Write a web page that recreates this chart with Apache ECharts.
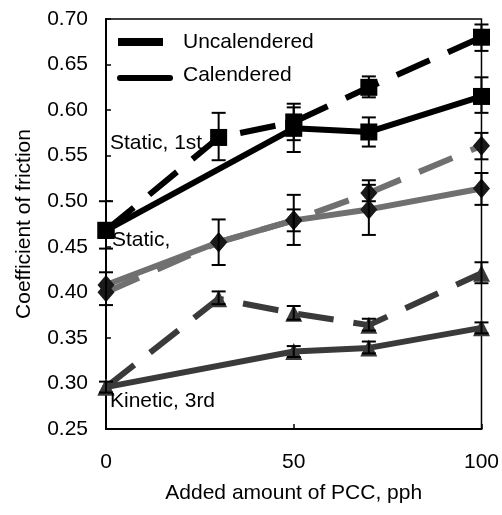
<!DOCTYPE html>
<html>
<head>
<meta charset="utf-8">
<script src="https://cdn.jsdelivr.net/npm/echarts@6/dist/echarts.min.js"></script>
<style>html,body{margin:0;padding:0;background:#fff;}#c{width:502px;height:515px;}</style>
</head>
<body>
<div id="c"></div>
<script>
const xValues = [0, 30, 50, 70, 100];
const xTicks = [0, 50, 100];
const yTicks = [0.25, 0.30, 0.35, 0.40, 0.45, 0.50, 0.55, 0.60, 0.65, 0.70];

// Static, 1st
const static1Uncal = [0.468, 0.570, 0.587, 0.625, 0.680];
const static1UncalLow = [0.448, 0.545, 0.567, 0.614, 0.665];
const static1UncalHigh = [0.500, 0.597, 0.607, 0.637, 0.694];
const static1Cal = [0.468, null, 0.580, 0.576, 0.615];
const static1CalLow = [null, null, 0.554, 0.560, 0.597];
const static1CalHigh = [null, null, 0.603, 0.592, 0.636];

// Static, 2nd
const static2Uncal = [0.400, 0.455, 0.479, 0.509, 0.561];
const static2UncalLow = [0.386, 0.430, 0.467, 0.500, 0.546];
const static2UncalHigh = [0.422, 0.480, 0.491, 0.523, 0.575];
const static2Cal = [0.408, 0.455, 0.479, 0.491, 0.514];
const static2CalLow = [null, null, 0.452, 0.463, 0.496];
const static2CalHigh = [null, null, 0.507, 0.518, 0.531];

// Kinetic, 3rd
const kinUncal = [0.296, 0.393, 0.377, 0.364, 0.421];
const kinUncalLow = [0.290, 0.387, 0.370, 0.358, 0.410];
const kinUncalHigh = [0.302, 0.401, 0.385, 0.371, 0.433];
const kinCal = [0.296, null, 0.335, 0.339, 0.361];
const kinCalLow = [null, null, 0.329, 0.333, 0.355];
const kinCalHigh = [null, null, 0.341, 0.346, 0.367];

function pts(vals) {
  const out = [];
  vals.forEach((v, i) => { if (v !== null) out.push([xValues[i], v]); });
  return out;
}
function errs(lo, hi) {
  const out = [];
  lo.forEach((v, i) => { if (v !== null && hi[i] !== null) out.push([xValues[i], v, hi[i]]); });
  return out;
}

const BLACK = '#000000', GRAY = '#707070', DARK = '#3a3a3a';
const DASH = [36, 20];
const LW = 6;

function lineSeries(name, vals, color, dashed, symbol, size, symColor) {
  return {
    name: name, type: 'line', data: pts(vals), connectNulls: true,
    symbol: symbol, symbolSize: size, showSymbol: true,
    lineStyle: { color: color, width: LW, type: dashed ? DASH : 'solid', cap: 'butt' },
    itemStyle: { color: symColor || color, opacity: 1 },
    emphasis: { disabled: true }, animation: false, z: 2
  };
}
function errSeries(lo, hi) {
  return {
    type: 'custom', data: errs(lo, hi), animation: false, z: 3, silent: true,
    renderItem: function (params, api) {
      const x = api.value(0);
      const a = api.coord([x, api.value(1)]);
      const b = api.coord([x, api.value(2)]);
      const w = 7;
      const st = { stroke: '#000', lineWidth: 2 };
      return { type: 'group', children: [
        { type: 'line', shape: { x1: a[0], y1: a[1], x2: b[0], y2: b[1] }, style: st },
        { type: 'line', shape: { x1: a[0] - w, y1: a[1], x2: a[0] + w, y2: a[1] }, style: st },
        { type: 'line', shape: { x1: b[0] - w, y1: b[1], x2: b[0] + w, y2: b[1] }, style: st }
      ] };
    }
  };
}

const FONT = 'Liberation Sans, Arial, sans-serif';
const FS = 21;
const chart = echarts.init(document.getElementById('c'), null, { renderer: 'canvas' });
chart.setOption({
  backgroundColor: '#fff',
  animation: false,
  grid: { left: 106, right: 20, top: 19, bottom: 86, show: true, borderColor: '#000', borderWidth: 1.5, backgroundColor: 'transparent' },
  xAxis: {
    type: 'value', min: xTicks[0], max: xTicks[xTicks.length - 1], interval: 50,
    name: 'Added amount of PCC, pph', nameLocation: 'middle', nameGap: 54,
    nameTextStyle: { fontFamily: FONT, fontSize: FS, color: '#000' },
    axisLine: { lineStyle: { color: '#000', width: 2 } },
    axisTick: { inside: true, length: 5, lineStyle: { color: '#000', width: 1.5 } },
    axisLabel: { fontFamily: FONT, fontSize: FS, color: '#000', margin: 23 },
    splitLine: { show: false }
  },
  yAxis: {
    type: 'value', min: yTicks[0], max: yTicks[yTicks.length - 1], interval: 0.05,
    name: 'Coefficient of friction', nameLocation: 'middle', nameGap: 71,
    nameTextStyle: { fontFamily: FONT, fontSize: FS, color: '#000' },
    axisLine: { show: true, lineStyle: { color: '#000', width: 2 } },
    axisTick: { show: true, inside: true, length: 5, lineStyle: { color: '#000', width: 1.5 } },
    axisLabel: { fontFamily: FONT, fontSize: FS, color: '#000', margin: 18, formatter: v => v.toFixed(2) },
    splitLine: { show: false }
  },
  series: [
    lineSeries('Static 2nd Uncal', static2Uncal, GRAY, true, 'diamond', [17, 20], '#1a1a1a'),
    lineSeries('Static 2nd Cal', static2Cal, GRAY, false, 'diamond', [17, 20], '#1a1a1a'),
    lineSeries('Kinetic Uncal', kinUncal, DARK, true, 'triangle', 17, DARK),
    lineSeries('Kinetic Cal', kinCal, DARK, false, 'triangle', 17, DARK),
    lineSeries('Static 1st Uncal', static1Uncal, BLACK, true, 'rect', 17, BLACK),
    lineSeries('Static 1st Cal', static1Cal, BLACK, false, 'rect', 17, BLACK),
    errSeries(static1UncalLow, static1UncalHigh),
    errSeries(static1CalLow, static1CalHigh),
    errSeries(static2UncalLow, static2UncalHigh),
    errSeries(static2CalLow, static2CalHigh),
    errSeries(kinUncalLow, kinUncalHigh),
    errSeries(kinCalLow, kinCalHigh)
  ],
  graphic: [
    { type: 'line', shape: { x1: 118, y1: 42, x2: 163, y2: 42 }, style: { stroke: '#000', lineWidth: 8, lineCap: 'butt' }, z: 10 },
    { type: 'line', shape: { x1: 120, y1: 78, x2: 170, y2: 78 }, style: { stroke: '#000', lineWidth: 6, lineCap: 'round' }, z: 10 },
    { type: 'text', left: 183, top: 32, style: { text: 'Uncalendered', font: FS + 'px ' + FONT, fill: '#000' }, z: 10 },
    { type: 'text', left: 183, top: 65, style: { text: 'Calendered', font: FS + 'px ' + FONT, fill: '#000' }, z: 10 },
    { type: 'text', left: 110, top: 133, style: { text: 'Static, 1st', font: FS + 'px ' + FONT, fill: '#000' }, z: 10 },
    { type: 'text', left: 112, top: 230, style: { text: 'Static,', font: FS + 'px ' + FONT, fill: '#000' }, z: 10 },
    { type: 'text', left: 110, top: 391, style: { text: 'Kinetic, 3rd', font: FS + 'px ' + FONT, fill: '#000' }, z: 10 }
  ]
});
</script>
</body>
</html>
